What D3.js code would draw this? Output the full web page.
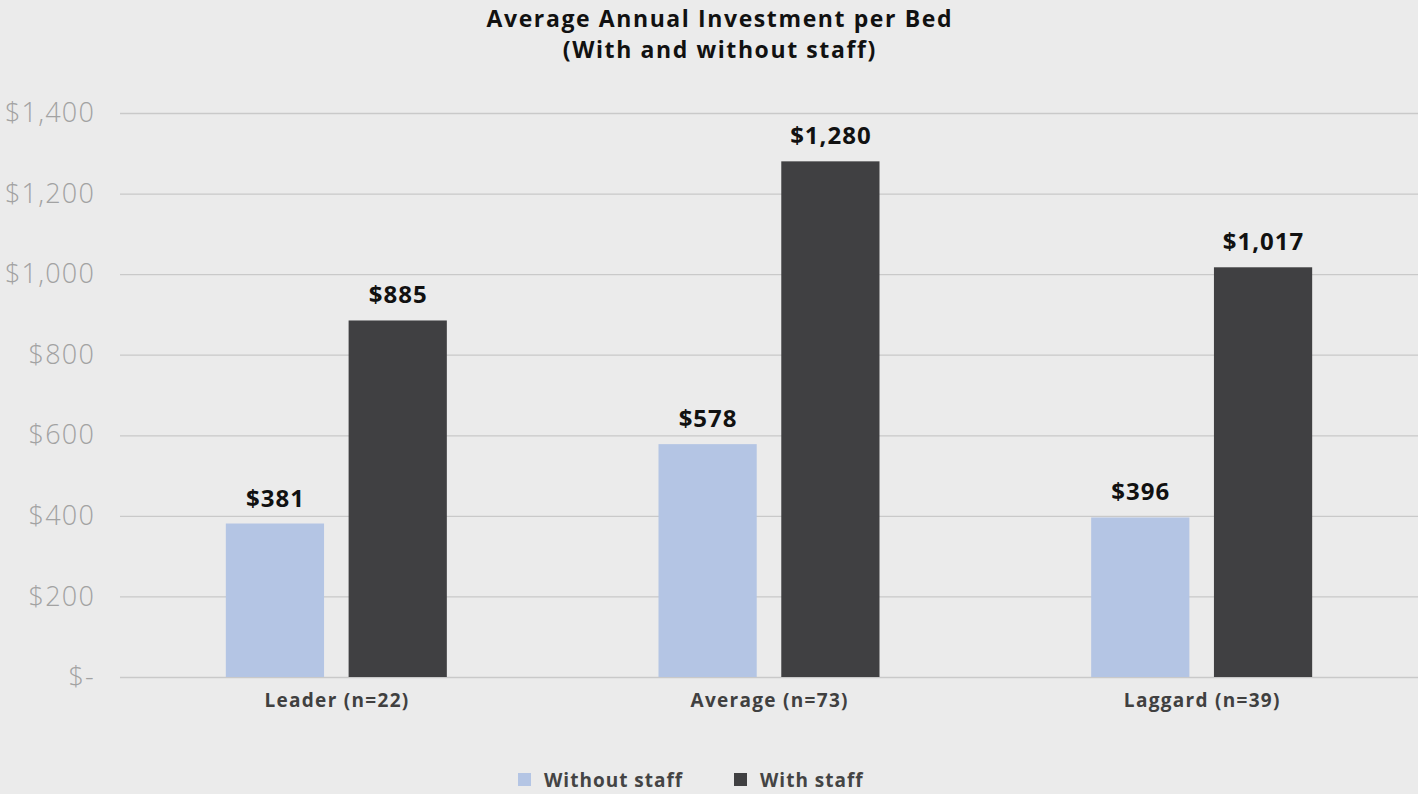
<!DOCTYPE html>
<html>
<head>
<meta charset="utf-8">
<script src="https://cdn.jsdelivr.net/npm/d3@7"></script>
<style>
  html, body { margin: 0; padding: 0; background: #ebebeb; }
  svg { display: block; }
  svg text { font-family: "Open Sans", Lato, sans-serif; }
</style>
</head>
<body>
<svg id="chart" width="1418" height="794"></svg>
<script>
// Chart data
const categories = ["Leader (n=22)", "Average (n=73)", "Laggard (n=39)"];
const seriesNames = ["Without staff", "With staff"];
const withoutStaff = [381, 578, 396];
const withStaff = [885, 1280, 1017];
const yTicks = [0, 200, 400, 600, 800, 1000, 1200, 1400];
const titleLines = ["Average Annual Investment per Bed", "(With and without staff)"];

const colors = ["#b4c5e4", "#404042"];
const W = 1418, H = 794;
const margin = { left: 120, right: 0, top: 113, bottom: 117 };

const svg = d3.select("#chart");

const x0 = d3.scaleBand().domain(categories).range([margin.left, W - margin.right]).padding(0);
const groupWidth = 221;
const x1 = d3.scaleBand().domain(seriesNames)
  .range([(x0.bandwidth() - groupWidth) / 2, (x0.bandwidth() + groupWidth) / 2])
  .paddingInner(0.2).paddingOuter(0);
const y = d3.scaleLinear().domain([0, 1400]).range([H - margin.bottom, margin.top]);

const fmt = v => v === 0 ? "$-" : "$" + d3.format(",")(v);

// Gridlines and y labels
const yAxis = d3.axisLeft(y).tickValues(yTicks).tickFormat(fmt)
  .tickSize(-(W - margin.left - margin.right)).tickPadding(25);
const gy = svg.append("g").attr("transform", `translate(${margin.left},0)`).call(yAxis)
  .attr("font-family", null);
gy.select(".domain").remove();
gy.selectAll(".tick line").attr("stroke", "#c9c9c9").attr("stroke-width", 1.3);
gy.selectAll(".tick text").attr("fill", "#a2a2a2").attr("font-size", 27)
  .attr("font-weight", 300).attr("letter-spacing", 1.2);

// Title
svg.append("g").selectAll("text").data(titleLines).join("text")
  .attr("x", 719 + 0.8).attr("y", (d, i) => 27 + i * 31)
  .attr("text-anchor", "middle").attr("font-size", 23).attr("font-weight", 700)
  .attr("letter-spacing", 1.6)
  .attr("fill", "#111").text(d => d);

// Bars
const rows = categories.map((c, i) => ({ cat: c, vals: [withoutStaff[i], withStaff[i]] }));
const groups = svg.append("g").selectAll("g").data(rows).join("g")
  .attr("transform", d => `translate(${x0(d.cat)},0)`);

groups.selectAll("rect").data(d => d.vals.map((v, j) => ({ key: seriesNames[j], v, j })))
  .join("rect")
  .attr("x", d => x1(d.key)).attr("width", x1.bandwidth())
  .attr("y", d => y(d.v)).attr("height", d => y(0) - y(d.v))
  .attr("fill", d => colors[d.j]);

// Value labels above bars
groups.selectAll("text.val").data(d => d.vals.map((v, j) => ({ key: seriesNames[j], v, j })))
  .join("text").attr("class", "val")
  .attr("x", d => x1(d.key) + x1.bandwidth() / 2 + 0.5).attr("y", d => y(d.v) - 17)
  .attr("text-anchor", "middle").attr("font-size", 24).attr("font-weight", 700)
  .attr("letter-spacing", 1)
  .attr("fill", "#111").text(d => fmt(d.v));

// Category labels
const xAxis = d3.axisBottom(x0).tickSize(0).tickPadding(17);
const gx = svg.append("g").attr("transform", `translate(0,${y(0)})`).call(xAxis)
  .attr("font-family", null);
gx.select(".domain").remove();
gx.selectAll(".tick text").attr("fill", "#404040").attr("font-size", 19).attr("font-weight", 700)
  .attr("letter-spacing", 1.3).attr("dx", 0.65);

// Legend
const legendItems = [{ name: seriesNames[0], x: 518 }, { name: seriesNames[1], x: 734 }];
const lg = svg.append("g").selectAll("g").data(legendItems).join("g")
  .attr("transform", d => `translate(${d.x},773)`);
lg.append("rect").attr("width", 13).attr("height", 13).attr("y", 0)
  .attr("fill", (d, i) => colors[i]);
lg.append("text").attr("x", 26).attr("y", 14).attr("font-size", 19).attr("font-weight", 700)
  .attr("letter-spacing", 1)
  .attr("fill", "#444").text(d => d.name);
</script>
</body>
</html>
